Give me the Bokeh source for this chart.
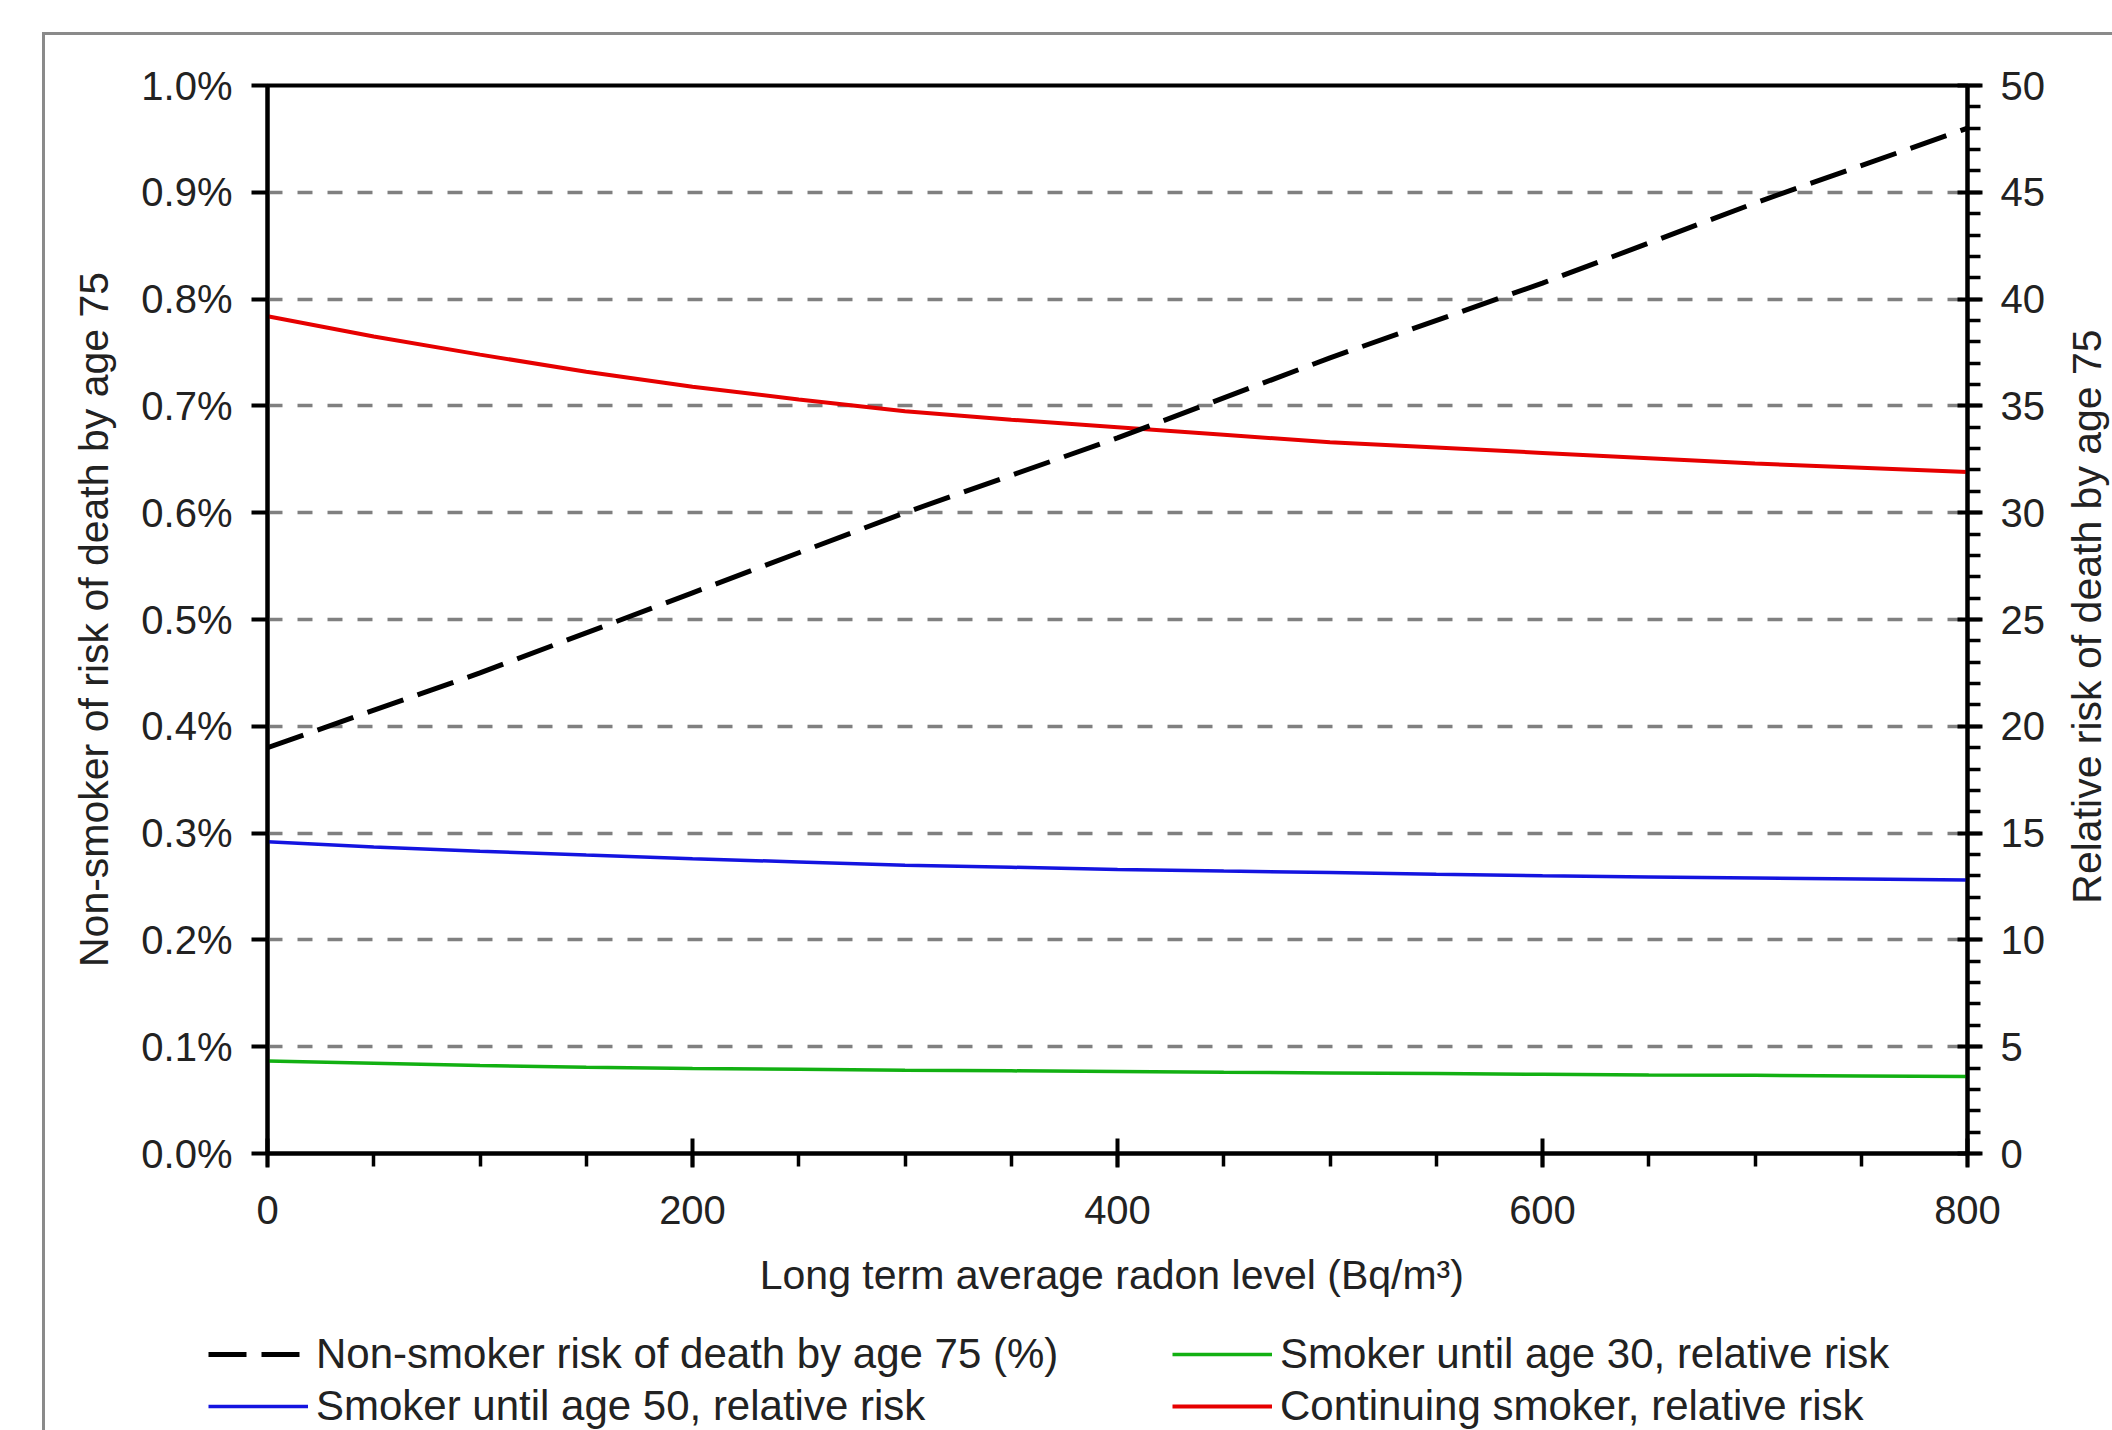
import math
from bokeh.plotting import figure
from bokeh.layouts import column
from bokeh.models import (LinearAxis, Range1d, FixedTicker, PrintfTickFormatter,
                          Legend, LegendItem, Label)
from bokeh.embed import file_html
from bokeh.resources import INLINE

# ---- data ----
radon = [0, 50, 100, 150, 200, 250, 300, 350, 400, 450, 500, 550, 600, 650, 700, 750, 800]
smoker_to_30_rr = [4.33, 4.22, 4.12, 4.04, 3.98, 3.94, 3.90, 3.87, 3.84,
                   3.80, 3.77, 3.74, 3.71, 3.68, 3.66, 3.63, 3.60]
smoker_to_50_rr = [14.6, 14.35, 14.15, 13.97, 13.8, 13.65, 13.5, 13.4, 13.3,
                   13.22, 13.15, 13.07, 13.0, 12.95, 12.9, 12.85, 12.8]
continuing_rr = [39.2, 38.25, 37.4, 36.6, 35.9, 35.3, 34.75, 34.35, 34.0,
                 33.65, 33.3, 33.05, 32.8, 32.55, 32.3, 32.1, 31.9]
radon_ns = [0, 100, 200, 300, 400, 500, 600, 700, 800]
nonsmoker_pct = [0.38, 0.45, 0.525, 0.60, 0.67, 0.745, 0.815, 0.89, 0.96]

x_major = [0, 200, 400, 600, 800]
x_minor = list(range(0, 801, 50))
left_ticks = [0.0, 0.1, 0.2, 0.3, 0.4, 0.5, 0.6, 0.7, 0.8, 0.9, 1.0]
right_major = list(range(0, 51, 5))
right_minor = list(range(0, 51, 1))

series_labels = ["Non-smoker risk of death by age 75 (%)",
                 "Smoker until age 50, relative risk",
                 "Smoker until age 30, relative risk",
                 "Continuing smoker, relative risk"]

FONT = "Liberation Sans"
TXT = "#222222"
W = 2112
H_MAIN = 1315
H_LEG = 115

STYLES = {
    "green": dict(line_color="#12b012", line_width=3.5),
    "blue": dict(line_color="#1414e0", line_width=3.5),
    "red": dict(line_color="#e60000", line_width=4),
    "black": dict(line_color="black", line_width=5, line_dash="38 15"),
}

p = figure(width=W, height=H_MAIN, output_backend="svg", toolbar_location=None,
           x_range=Range1d(0, 800), y_range=Range1d(0, 1.0),
           min_border_left=267, min_border_right=W - 1967, min_border_top=85,
           min_border_bottom=H_MAIN - 1153)
p.frame_align = False
p.background_fill_color = "white"
p.border_fill_alpha = 0
p.outline_line_color = "black"
p.outline_line_width = 4

# x axis
xa = p.xaxis[0]
xa.ticker = FixedTicker(ticks=x_major, minor_ticks=x_minor)
xa.axis_label = "Long term average radon level  (Bq/m\u00b3)"

# left axis
ya = p.yaxis[0]
ya.ticker = FixedTicker(ticks=left_ticks, minor_ticks=[])
ya.formatter = PrintfTickFormatter(format="%.1f%%")
ya.axis_label = "Non-smoker of risk of death by age 75"

# right axis
p.extra_y_ranges = {"rr": Range1d(0, 50)}
ra = LinearAxis(y_range_name="rr",
                ticker=FixedTicker(ticks=right_major, minor_ticks=right_minor))
p.add_layout(ra, "right")

for ax in (xa, ya, ra):
    ax.axis_line_color = "black"
    ax.axis_line_width = 4
    ax.major_tick_line_color = "black"
    ax.major_tick_line_width = 4
    ax.minor_tick_line_color = "black"
    ax.minor_tick_line_width = 3.5
    ax.major_label_text_font = FONT
    ax.major_label_text_font_size = "40px"
    ax.major_label_text_color = TXT
    ax.axis_label_text_font = FONT
    ax.axis_label_text_font_size = "41px"
    ax.axis_label_text_font_style = "normal"
    ax.axis_label_text_color = TXT

xa.major_tick_in = 15
xa.major_tick_out = 14
xa.minor_tick_in = 0
xa.minor_tick_out = 13
xa.major_label_standoff = 28
xa.axis_label_standoff = 25

ya.major_tick_in = 0
ya.major_tick_out = 16
ya.minor_tick_in = 0
ya.minor_tick_out = 0
ya.major_label_standoff = 19
ya.axis_label_standoff = 21

ra.major_tick_in = 10
ra.major_tick_out = 15
ra.minor_tick_in = 0
ra.minor_tick_out = 13
ra.major_label_standoff = 18

# right axis title, reading bottom to top
rtitle = Label(x=39, y=537, x_units="screen", y_units="screen",
               text="Relative risk of death by age 75", angle=math.pi / 2,
               text_align="center", text_baseline="middle",
               text_font=FONT, text_font_size="41px", text_color=TXT)
p.add_layout(rtitle, "right")

# grid
p.xgrid.visible = False
p.ygrid.grid_line_color = "#808080"
p.ygrid.grid_line_width = 3.5
p.ygrid.grid_line_dash = "15 15"

# lines
p.line(radon, smoker_to_30_rr, y_range_name="rr", **STYLES["green"])
p.line(radon, smoker_to_50_rr, y_range_name="rr", **STYLES["blue"])
p.line(radon, continuing_rr, y_range_name="rr", **STYLES["red"])
p.line(radon_ns, nonsmoker_pct, **STYLES["black"])

# ---- legend strip below the chart ----
# the same series are drawn here, outside the visible ranges, only to feed the legend
q = figure(width=W, height=H_LEG, output_backend="svg", toolbar_location=None,
           x_axis_type=None, y_axis_type=None,
           x_range=Range1d(-20, -10), y_range=Range1d(-20, -10),
           min_border=0, min_border_left=0, min_border_right=0,
           min_border_top=0, min_border_bottom=0)
q.frame_align = False
q.outline_line_color = None
q.background_fill_alpha = 0
q.border_fill_alpha = 0
q.grid.visible = False

k_black = q.line(radon_ns, nonsmoker_pct, **STYLES["black"])
k_blue = q.line(radon, smoker_to_50_rr, **STYLES["blue"])
k_green = q.line(radon, smoker_to_30_rr, **STYLES["green"])
k_red = q.line(radon, continuing_rr, **STYLES["red"])


def make_legend(items, loc):
    return Legend(items=items, location=loc, orientation="vertical",
                  glyph_width=100, glyph_height=30, label_height=30,
                  label_standoff=8, spacing=4, padding=0, margin=0,
                  label_text_font=FONT, label_text_font_size="42px",
                  label_text_color=TXT,
                  border_line_alpha=0, background_fill_alpha=0)


lg1 = make_legend([LegendItem(label=series_labels[0], renderers=[k_black]),
                   LegendItem(label=series_labels[1], renderers=[k_blue])], (208, 0))
lg2 = make_legend([LegendItem(label=series_labels[2], renderers=[k_green]),
                   LegendItem(label=series_labels[3], renderers=[k_red])], (1172, 0))
q.add_layout(lg1, "center")
q.add_layout(lg2, "center")

page = column(p, q, spacing=0, styles={
    "background-color": "white",
    "box-shadow": "inset 42px 32px 0 0 white, inset 45px 35px 0 0 #8a8a8a",
})

open("out.html", "w").write(file_html(page, INLINE))
